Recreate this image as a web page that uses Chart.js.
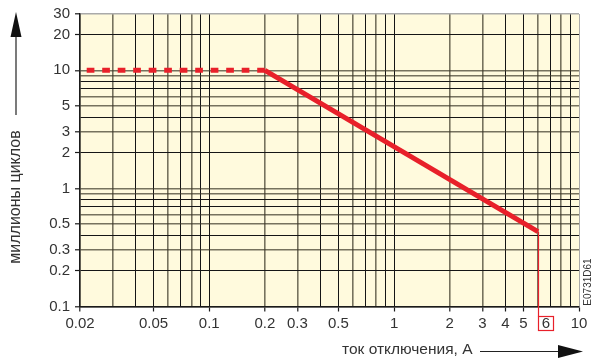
<!DOCTYPE html>
<html>
<head>
<meta charset="utf-8">
<script src="https://cdn.jsdelivr.net/npm/chart.js@4"></script>
<style>
  body { margin: 0; background: #fff; }
</style>
</head>
<body>
<canvas id="chart" width="593" height="359"></canvas>
<script>
// breaking current, A  vs  millions of operations
const current = [0.02, 0.2, 6];
const cycles = [10, 10, 0.43];

const xGridTicks = [0.02, 0.03, 0.04, 0.05, 0.06, 0.07, 0.08, 0.09,
  0.1, 0.2, 0.3, 0.4, 0.5, 0.6, 0.7, 0.8, 0.9,
  1, 2, 3, 4, 5, 6, 7, 8, 9, 10];
const xLabels = [0.02, 0.05, 0.1, 0.2, 0.3, 0.5, 1, 2, 3, 4, 5, 10];
const markedCurrent = 6;

const yGridTicks = [0.1, 0.2, 0.3, 0.4, 0.5, 0.6, 0.7, 0.8, 0.9,
  1, 2, 3, 4, 5, 6, 7, 8, 9, 10, 20, 30];
const yLabels = [0.1, 0.2, 0.3, 0.5, 1, 2, 3, 5, 10, 20, 30];

const xTitle = 'ток отключения, А';
const yTitle = 'миллионы циклов';
const drawingCode = 'E0731D61';

const FONT = "'Liberation Sans', Arial, sans-serif";
const RED = '#e8202a';
const TEXT = '#333';

function mant(v) {
  return Math.round(v / Math.pow(10, Math.floor(Math.log10(v) + 1e-9)));
}

function gridColor(greys, max) {
  return (ctx) => {
    const v = ctx.tick.value;
    if (v === max) return '#aaa';
    return greys.includes(mant(v)) ? 'rgba(60,55,40,0.7)' : '#151515';
  };
}
function gridWidth(greys) {
  return (ctx) => greys.includes(mant(ctx.tick.value)) ? 1.6 : 1;
}

const paper = {
  id: 'paper',
  beforeDraw(chart) {
    const { ctx, chartArea: a } = chart;
    ctx.save();
    ctx.fillStyle = '#fffadd';
    ctx.fillRect(a.left, a.top, a.right - a.left, a.bottom - a.top);
    ctx.restore();
  },
  afterDraw(chart) {
    const { ctx, chartArea: a, scales } = chart;
    ctx.save();

    // y title with arrow
    ctx.fillStyle = TEXT;
    ctx.strokeStyle = '#222';
    ctx.translate(16, 197);
    ctx.rotate(-Math.PI / 2);
    ctx.font = '16px ' + FONT;
    ctx.textAlign = 'center';
    ctx.textBaseline = 'middle';
    ctx.fillText(yTitle, 0, 0);
    ctx.setTransform(1, 0, 0, 1, 0, 0);
    ctx.lineWidth = 1.2;
    ctx.beginPath();
    ctx.moveTo(16, 115);
    ctx.lineTo(16, 34);
    ctx.stroke();
    ctx.fillStyle = '#111';
    ctx.beginPath();
    ctx.moveTo(16, 12);
    ctx.lineTo(21.5, 37);
    ctx.lineTo(10.5, 37);
    ctx.closePath();
    ctx.fill();

    // x title with arrow
    ctx.fillStyle = TEXT;
    ctx.font = '15.5px ' + FONT;
    ctx.textAlign = 'left';
    ctx.textBaseline = 'alphabetic';
    ctx.fillText(xTitle, 342, 354);
    ctx.beginPath();
    ctx.moveTo(480, 351.5);
    ctx.lineTo(562, 351.5);
    ctx.stroke();
    ctx.fillStyle = '#111';
    ctx.beginPath();
    ctx.moveTo(558, 345);
    ctx.lineTo(583, 351.5);
    ctx.lineTo(558, 358);
    ctx.closePath();
    ctx.fill();

    // drawing code
    ctx.fillStyle = TEXT;
    ctx.translate(588, 282);
    ctx.rotate(-Math.PI / 2);
    ctx.font = '10px ' + FONT;
    ctx.textAlign = 'center';
    ctx.textBaseline = 'middle';
    ctx.fillText(drawingCode, 0, 0);
    ctx.setTransform(1, 0, 0, 1, 0, 0);

    // marked current: drop line and boxed label
    const px = Math.round(scales.x.getPixelForValue(markedCurrent)) + 0.5;
    const py = scales.y.getPixelForValue(cycles[cycles.length - 1]);
    const by = Math.round(a.bottom + 9) + 0.5;
    ctx.strokeStyle = RED;
    ctx.lineWidth = 1.2;
    ctx.beginPath();
    ctx.moveTo(px, py);
    ctx.lineTo(px, by);
    ctx.stroke();
    ctx.strokeRect(px, by, 15, 14);
    ctx.fillStyle = TEXT;
    ctx.font = '15px ' + FONT;
    ctx.textAlign = 'center';
    ctx.textBaseline = 'middle';
    ctx.fillText(String(markedCurrent), px + 7.5, by + 7.5);
    ctx.restore();
  }
};

new Chart(document.getElementById('chart'), {
  type: 'line',
  data: {
    datasets: [{
      data: current.map((x, i) => ({ x: x, y: cycles[i] })),
      borderColor: RED,
      borderWidth: 5,
      pointRadius: 0,
      tension: 0,
      segment: {
        borderDash: (ctx) => ctx.p0DataIndex === 0 ? [7.7, 7.8] : undefined,
        borderDashOffset: (ctx) => ctx.p0DataIndex === 0 ? 8.8 : 0
      }
    }]
  },
  options: {
    responsive: false,
    animation: false,
    layout: { padding: { top: 13, right: 14, left: 0, bottom: 0 } },
    plugins: { legend: { display: false }, tooltip: { enabled: false } },
    scales: {
      x: {
        type: 'logarithmic',
        min: 0.02,
        max: 10,
        afterBuildTicks: (s) => { s.ticks = xGridTicks.map(v => ({ value: v })); },
        afterFit: (s) => { s.height = 52.5; },
        border: { color: '#1a1a1a', width: 1.5 },
        grid: {
          color: gridColor([2, 3, 6, 8], 10),
          lineWidth: gridWidth([2, 3, 6, 8]),
          tickLength: 5,
          tickColor: (ctx) => xLabels.includes(ctx.tick.value) ? '#1a1a1a' : 'rgba(0,0,0,0)',
          tickWidth: 1.2
        },
        ticks: {
          autoSkip: false,
          maxRotation: 0,
          padding: 3,
          color: TEXT,
          font: { family: FONT, size: 15 },
          callback: (v) => xLabels.includes(v) ? String(v) : ''
        }
      },
      y: {
        type: 'logarithmic',
        min: 0.1,
        max: 30,
        afterBuildTicks: (s) => { s.ticks = yGridTicks.map(v => ({ value: v })); },
        afterFit: (s) => { s.width = 80; },
        border: { color: '#1a1a1a', width: 1.5 },
        grid: {
          color: gridColor([1, 3, 5, 6, 9], 30),
          lineWidth: gridWidth([1, 3, 5, 6, 9]),
          tickLength: 5,
          tickColor: (ctx) => yLabels.includes(ctx.tick.value) ? '#1a1a1a' : 'rgba(0,0,0,0)',
          tickWidth: 1.2
        },
        ticks: {
          autoSkip: false,
          padding: 5,
          color: TEXT,
          font: { family: FONT, size: 15 },
          callback: (v) => yLabels.includes(v) ? String(v) : ''
        }
      }
    }
  },
  plugins: [paper]
});
</script>
</body>
</html>
